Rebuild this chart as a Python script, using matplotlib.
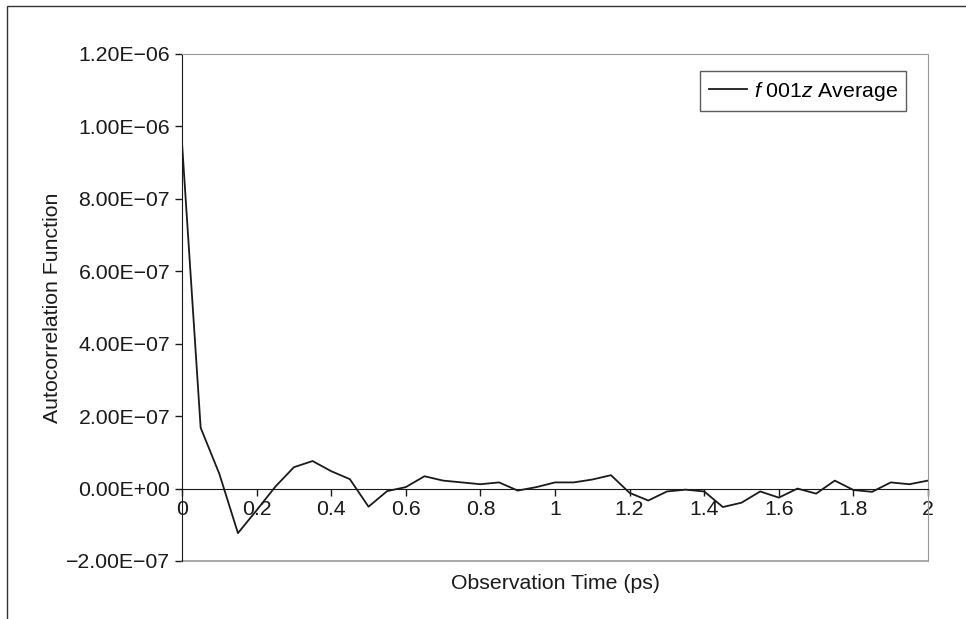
import numpy as np
import matplotlib.pyplot as plt
from matplotlib.patches import Rectangle

plt.rcParams['font.family'] = ['Liberation Sans', 'DejaVu Sans']
plt.rcParams['mathtext.fontset'] = 'custom'
plt.rcParams['mathtext.rm'] = 'Liberation Sans'
plt.rcParams['mathtext.it'] = 'Liberation Sans:italic'

# data (time step 0.05 ps)
time_ps = [0.00, 0.05, 0.10, 0.15, 0.20, 0.25, 0.30, 0.35, 0.40, 0.45,
           0.50, 0.55, 0.60, 0.65, 0.70, 0.75, 0.80, 0.85, 0.90, 0.95,
           1.00, 1.05, 1.10, 1.15, 1.20, 1.25, 1.30, 1.35, 1.40, 1.45,
           1.50, 1.55, 1.60, 1.65, 1.70, 1.75, 1.80, 1.85, 1.90, 1.95, 2.00]
acf = [9.55e-7, 1.68e-7, 4.1e-8, -1.23e-7, -6.0e-8, 5e-9, 5.9e-8, 7.6e-8, 4.8e-8, 2.6e-8,
       -5.0e-8, -7e-9, 4e-9, 3.4e-8, 2.2e-8, 1.7e-8, 1.2e-8, 1.7e-8, -5.5e-9, 4e-9,
       1.7e-8, 1.7e-8, 2.5e-8, 3.7e-8, -1.2e-8, -3.3e-8, -8e-9, -3e-9, -8e-9, -5.1e-8,
       -3.9e-8, -8e-9, -2.5e-8, 0.0, -1.4e-8, 2.2e-8, -4e-9, -9e-9, 1.7e-8, 1.2e-8, 2.2e-8]

xticks = [0, 0.2, 0.4, 0.6, 0.8, 1.0, 1.2, 1.4, 1.6, 1.8, 2.0]
xtick_labels = ['0', '0.2', '0.4', '0.6', '0.8', '1', '1.2', '1.4', '1.6', '1.8', '2']
yticks = [-2e-7, 0, 2e-7, 4e-7, 6e-7, 8e-7, 1e-6, 1.2e-6]
ytick_labels = ['\u22122.00E\u221207', '0.00E+00', '2.00E\u221207', '4.00E\u221207',
                '6.00E\u221207', '8.00E\u221207', '1.00E\u221206', '1.20E\u221206']

fs = 15.3

fig = plt.figure(figsize=(9.66, 6.19), dpi=100)
ax = fig.add_axes([0.1884, 0.0937, 0.7723, 0.8191])

# outer frame of the figure (right/bottom edges are cut off in the original)
fig.patches.append(Rectangle((7 / 966, -0.1), 1.2, 1 - 6 / 619 + 0.1,
                             transform=fig.transFigure, fill=False,
                             edgecolor='#333333', linewidth=1.0))

ax.plot(time_ps, acf, color='#1a1a1a', linewidth=1.3, label=r'$\it{f}$ 001$\it{z}$ Average')

ax.set_xlim(0, 2)
ax.set_ylim(-2e-7, 1.2e-6)

ax.spines['bottom'].set_position(('data', 0))
ax.spines['bottom'].set_color('#1a1a1a')
ax.spines['left'].set_color('#1a1a1a')
ax.spines['top'].set_color('#999999')
ax.spines['right'].set_color('#999999')
ax.axhline(-2e-7, color='#999999', linewidth=1.2, clip_on=False)

ax.set_xticks(xticks)
ax.set_xticklabels(xtick_labels)
ax.set_yticks(yticks)
ax.set_yticklabels(ytick_labels)
ax.tick_params(axis='both', labelsize=fs, colors='#1a1a1a', direction='out', length=5, width=1)
ax.tick_params(axis='x', pad=3)

ax.set_xlabel('Observation Time (ps)', fontsize=fs, color='#1a1a1a')
ax.xaxis.set_label_coords(0.5, -0.025)
ax.set_ylabel('Autocorrelation Function', fontsize=fs, color='#1a1a1a')
ax.yaxis.set_label_coords(-0.161, 0.5)

leg = ax.legend(loc='upper right', bbox_to_anchor=(0.9705, 0.966), fontsize=fs,
                frameon=True, fancybox=False, handlelength=1.8, handletextpad=0.3,
                borderpad=0.4, borderaxespad=0)
leg.get_frame().set_edgecolor('#333333')
leg.get_frame().set_linewidth(1.0)

fig.savefig('out.png', dpi=100)
